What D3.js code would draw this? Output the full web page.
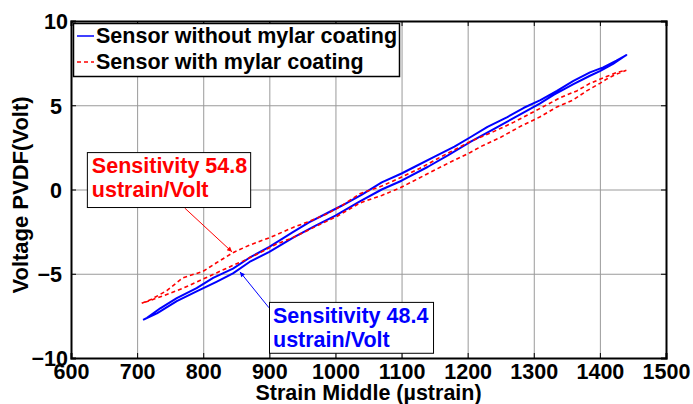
<!DOCTYPE html>
<html><head><meta charset="utf-8">
<script src="https://cdn.jsdelivr.net/npm/d3@7"></script>
<style>
html,body{margin:0;padding:0;background:#fff;}
svg{display:block;font-family:"Liberation Sans",Arial,sans-serif;font-weight:bold;}
</style></head>
<body><svg id="chart" width="693" height="404"></svg>
<script>
// ---- data ----
const xTicks = [600,700,800,900,1000,1100,1200,1300,1400,1500];
const yTicks = [-10,-5,0,5,10];
const seriesNames = ["Sensor without mylar coating","Sensor with mylar coating"];
// blue: sensor without mylar coating (loop: up, then back)
const blueStrain = [709,730,760,790,820,845,870,900,936,970,1000,1037,1070,1100,1140,1170,1204,1240,1270,1309,1330,1360,1385,1400,1420,1440,
                    1425,1405,1385,1360,1335,1310,1285,1260,1230,1204,1180,1150,1120,1100,1070,1040,1010,990,960,935,900,870,845,815,790,760,735,715,709];
const blueVolt   = [-7.74,-7.35,-6.62,-6.05,-5.48,-4.98,-4.30,-3.70,-2.85,-2.15,-1.55,-0.70,0.00,0.52,1.35,2.02,2.82,3.60,4.25,5.10,5.62,6.25,6.75,7.02,7.45,7.98,
                    7.65,7.25,6.95,6.45,5.85,5.30,4.85,4.30,3.72,3.10,2.55,1.95,1.35,0.95,0.42,-0.30,-0.95,-1.35,-1.95,-2.55,-3.40,-4.05,-4.70,-5.25,-5.85,-6.45,-7.05,-7.62,-7.74];
// red: sensor with mylar coating
const redStrain = [707,720,745,769,800,820,845,870,901,936,960,987,1010,1037,1070,1098,1130,1160,1204,1240,1270,1309,1340,1365,1385,1410,1426,1440,
                   1425,1410,1400,1380,1359,1335,1309,1280,1250,1220,1204,1170,1140,1098,1070,1037,1002,970,936,910,886,860,845,820,795,770,740,715,707];
const redVolt   = [-6.75,-6.55,-6.00,-5.25,-4.85,-4.35,-3.75,-3.30,-2.85,-2.25,-1.90,-1.45,-0.95,-0.25,0.20,0.70,1.30,1.95,2.85,3.45,4.00,4.80,5.45,5.85,6.30,6.70,6.95,7.08,
                   6.85,6.55,6.30,5.85,5.30,4.90,4.30,3.75,3.10,2.55,2.20,1.55,0.95,0.10,-0.35,-0.80,-1.60,-2.20,-2.85,-3.25,-3.75,-4.25,-4.50,-4.95,-5.40,-5.85,-6.30,-6.65,-6.75];
const redNote  = ["Sensitivity 54.8","ustrain/Volt"];
const blueNote = ["Sensitivity 48.4","ustrain/Volt"];
const xTitle = "Strain Middle (\u00b5strain)";
const yTitle = "Voltage PVDF(Volt)";

// ---- layout ----
const W = 693, H = 404;
const m = {left:71, right:27, top:21, bottom:46};
const pw = W - m.left - m.right, ph = H - m.top - m.bottom;
const FS = 21.5;
const BLUE = "#0000ff", RED = "#ff0000";

const svg = d3.select("#chart");
const g = svg.append("g").attr("transform", `translate(${m.left},${m.top})`);
const x = d3.scaleLinear().domain([600,1500]).range([0,pw]);
const y = d3.scaleLinear().domain([-10,10]).range([ph,0]);

// grid
g.append("g").attr("transform",`translate(0,${ph})`)
  .call(d3.axisBottom(x).tickValues(xTicks.slice(1,-1)).tickSize(-ph).tickFormat(""))
  .call(a=>{a.select(".domain").remove(); a.selectAll("line").attr("stroke","#9a9a9a").attr("stroke-width",1);});
g.append("g")
  .call(d3.axisLeft(y).tickValues(yTicks.slice(1,-1)).tickSize(-pw).tickFormat(""))
  .call(a=>{a.select(".domain").remove(); a.selectAll("line").attr("stroke","#9a9a9a").attr("stroke-width",1);});

// data lines
const line = d3.line().x(d=>x(d[0])).y(d=>y(d[1]));
const blueData = blueStrain.map((s,i)=>[s,blueVolt[i]]);
const redData = redStrain.map((s,i)=>[s,redVolt[i]]);
g.append("path").datum(blueData).attr("d",line).attr("fill","none")
  .attr("stroke",BLUE).attr("stroke-width",2).attr("stroke-linejoin","round");
g.append("path").datum(redData).attr("d",line).attr("fill","none")
  .attr("stroke",RED).attr("stroke-width",1.6).attr("stroke-dasharray","4,3");

// axes (inward ticks on all sides)
const ax = g.append("g").attr("transform",`translate(0,${ph})`)
  .call(d3.axisBottom(x).tickValues(xTicks).tickSize(-5).tickFormat(d3.format("d")));
ax.selectAll("text").attr("y",21).attr("dy",0);
const ay = g.append("g")
  .call(d3.axisLeft(y).tickValues(yTicks).tickSize(-5).tickFormat(d3.format("d")));
ay.selectAll("text").attr("x",d=>Math.abs(d)===10?-3:-9).attr("dy","0.36em");
g.append("g").call(d3.axisTop(x).tickValues(xTicks).tickSize(-5).tickFormat(""));
g.append("g").attr("transform",`translate(${pw},0)`)
  .call(d3.axisRight(y).tickValues(yTicks).tickSize(-5).tickFormat(""));
g.selectAll(".domain").attr("stroke","#000").attr("stroke-width",2);
g.selectAll(".tick line").filter(function(){return this.getAttribute("stroke")!=="#9a9a9a";}).attr("stroke","#000");
g.selectAll(".tick text").attr("font-size",FS).attr("font-weight","bold")
  .attr("font-family","'Liberation Sans',Arial,sans-serif").attr("fill","#000");

// axis titles
svg.append("text").attr("x",m.left+pw/2).attr("y",400).attr("text-anchor","middle")
  .attr("font-size",FS).attr("fill","#000").text(xTitle);
svg.append("text").attr("transform","translate(28,195) rotate(-90)").attr("text-anchor","middle")
  .attr("font-size",FS+0.5).attr("fill","#000").text(yTitle);

// legend
const lg = svg.append("g");
lg.append("rect").attr("x",73.5).attr("y",23.5).attr("width",326).attr("height",53)
  .attr("fill","#fff").attr("stroke","#000").attr("stroke-width",1.5);
[[BLUE,null,36,43],[RED,"4,3",62,69]].forEach((c,i)=>{
  lg.append("line").attr("x1",77).attr("x2",94).attr("y1",c[2]).attr("y2",c[2])
    .attr("stroke",c[0]).attr("stroke-width",1.5).attr("stroke-dasharray",c[1]);
  lg.append("text").attr("x",96).attr("y",c[3]).attr("font-size",FS).attr("fill","#000").text(seriesNames[i]);
});

// annotations
const defs = svg.append("defs");
[["arrR",RED],["arrB",BLUE]].forEach(a=>{
  defs.append("marker").attr("id",a[0]).attr("viewBox","0 0 10 10").attr("refX",10).attr("refY",5)
    .attr("markerWidth",7).attr("markerHeight",5).attr("orient","auto").attr("markerUnits","userSpaceOnUse")
    .append("path").attr("d","M0,0L10,5L0,10z").attr("fill",a[1]);
});
function note(lines,color,box,text,arrow,marker){
  // box/arrow in data units
  svg.append("line").attr("x1",m.left+x(arrow[0])).attr("y1",m.top+y(arrow[1]))
    .attr("x2",m.left+x(arrow[2])).attr("y2",m.top+y(arrow[3]))
    .attr("stroke",color).attr("stroke-width",1).attr("marker-end",`url(#${marker})`);
  const bx = m.left+x(box[0]), by = m.top+y(box[1]);
  svg.append("rect").attr("x",bx+0.5).attr("y",by+0.5)
    .attr("width",x(box[2])-x(box[0])).attr("height",y(box[3])-y(box[1]))
    .attr("fill","#fff").attr("stroke","#000").attr("stroke-width",1);
  lines.forEach((t,i)=>svg.append("text").attr("x",bx+text[0]).attr("y",by+text[1]+i*24)
    .attr("font-size",FS).attr("fill",color).text(t));
}
note(redNote,RED,[624,2.22,871,-1.04],[5,21],[772,-1.10,843.5,-3.70],"arrR");
note(blueNote,BLUE,[899.5,-6.67,1147.6,-9.69],[4,21],[899.5,-7.02,855.6,-4.89],"arrB");
</script></body></html>
